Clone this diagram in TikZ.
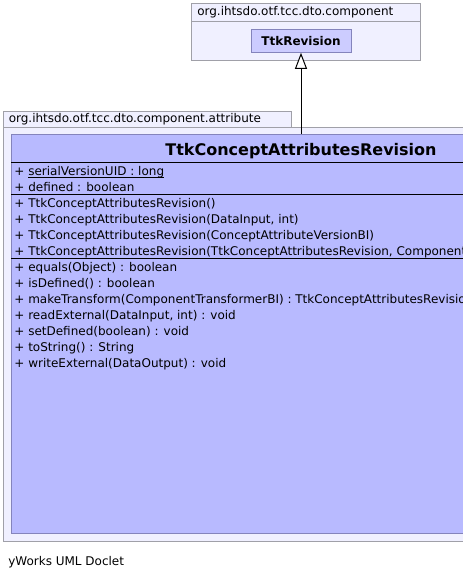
\documentclass[tikz,border=0pt]{standalone}
\usepackage{fontspec}
\setmainfont{DejaVu Sans}
\usetikzlibrary{arrows.meta}
\definecolor{pkgfill}{HTML}{F0F0FF}
\definecolor{pkgline}{HTML}{A0A0A8}
\definecolor{clsfill}{HTML}{B8BAFF}
\definecolor{clsline}{HTML}{8484BC}
\definecolor{revfill}{HTML}{CCCCFF}

\begin{document}
\begin{tikzpicture}[x=0.75pt, y=-0.75pt,
	pkg/.style={draw=pkgline, fill=pkgfill, line width=0.75pt},
	cls/.style={draw=clsline, fill=clsfill, line width=0.75pt, inner sep=0pt},
	txt/.style={anchor=base west, inner sep=0pt, font=\fontsize{9}{11}\selectfont},
	member/.style={txt},
	extends/.style={line width=0.75pt, -{Triangle[open, length=12pt, width=9pt, fill=white]}}]
	\useasboundingbox (0,0) rectangle (463,579);
	\clip (0,0) rectangle (463,579);
	\draw[pkg] (191,3) rectangle (420,60);
	\draw[pkgline, line width=0.75pt] (191,21) -- (420,21);
	\node[txt] (toplabel) at (197,15.5) {org.ihtsdo.otf.tcc.dto.component};
	\node[cls, fill=revfill, minimum width=75pt, minimum height=17.25pt,
		font=\bfseries\fontsize{9}{11}\selectfont] (revision) at (301,40.8) {TtkRevision};
	\draw[pkg] (3,127) rectangle (620,541);
	\draw[pkg] (3,111) rectangle (291,127);
	\node[txt] (attrlabel) at (8.5,122.5) {org.ihtsdo.otf.tcc.dto.component.attribute};
	\node[cls, minimum width=435pt, minimum height=299.25pt, anchor=north] (attrrev) at (301,134) {};
	\node[anchor=base, inner sep=0pt, font=\bfseries\fontsize{12}{14}\selectfont] (title) at (301,155) {TtkConceptAttributesRevision};
	\draw[line width=0.75pt] (11,162) -- (620,162);
	\draw[line width=0.75pt] (11,194) -- (620,194);
	\draw[line width=0.75pt] (11,258) -- (620,258);
	\foreach \m [count=\i from 0] in {
		{\smash{\underline{\smash{serialVersionUID : long}}}},
		{defined : boolean},
		{TtkConceptAttributesRevision()},
		{TtkConceptAttributesRevision(DataInput, int)},
		{TtkConceptAttributesRevision(ConceptAttributeVersionBI)},
		{TtkConceptAttributesRevision(TtkConceptAttributesRevision, ComponentTransformerBI)},
		{equals(Object) : boolean},
		{isDefined() : boolean},
		{makeTransform(ComponentTransformerBI) : TtkConceptAttributesRevision},
		{readExternal(DataInput, int) : void},
		{setDefined(boolean) : void},
		{toString() : String},
		{writeExternal(DataOutput) : void}}
	{
		\node[member] (plus\i) at (14,175.5+16*\i) {+};
		\node[member] (row\i) at (28,175.5+16*\i) {\m};
	}
	\draw[extends] (attrrev.north) -- (revision.south);
	\node[txt] (footer) at (8,565) {yWorks UML Doclet};
\end{tikzpicture}
\end{document}
